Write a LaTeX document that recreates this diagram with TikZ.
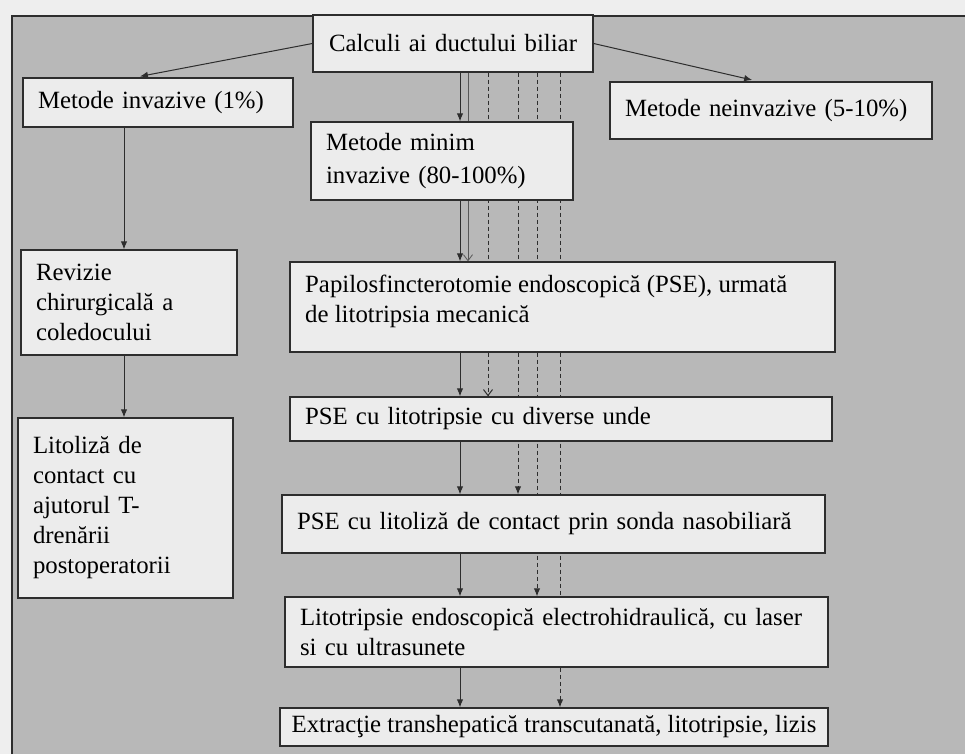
\documentclass[tikz,border=0pt]{standalone}
\usepackage{fontspec}
\setmainfont{Liberation Serif}
\usetikzlibrary{arrows.meta,calc}
\pgfdeclarelayer{bg}
\pgfdeclarelayer{lines}
\pgfsetlayers{bg,lines,main}
\definecolor{bggray}{RGB}{184,184,184}
\definecolor{outside}{RGB}{238,238,238}
\definecolor{boxfill}{RGB}{236,236,236}
\definecolor{ink}{RGB}{45,45,45}
\begin{document}
\begin{tikzpicture}[x=1pt,y=-1pt,
  box/.style={draw=ink, line width=1.3pt, fill=boxfill, inner xsep=15pt, inner ysep=0pt,
    align=left, font=\fontsize{24.8}{30}\selectfont, anchor=center},
  conn/.style={draw=ink, line width=1pt, -{Latex[length=8pt,width=6.5pt]}},
  dconn/.style={conn, dash pattern=on 4pt off 3pt},
  openhead/.style={-{Straight Barb[length=6pt,width=9pt]}}]
\useasboundingbox (0,0) rectangle (965,754);
\begin{pgfonlayer}{bg}
  \fill[outside] (0,0) rectangle (965,754);
  \fill[bggray] (12,16) rectangle (965,754);
  \draw[ink, line width=1.2pt] (12,754) -- (12,16) -- (965,16);
\end{pgfonlayer}

\node[box, align=center, text width=250pt, minimum height=57pt] (top) at (453,43.5) {Calculi ai ductului biliar};
\node[box, text width=240pt, minimum height=49pt] (inv) at (158,102.5) {Metode invazive (1\%)};
\node[box, text width=292pt, minimum height=57pt] (neinv) at (771,110.5) {Metode neinvazive (5-10\%)};
\node[box, text width=232pt, minimum height=78pt, font=\fontsize{24.8}{33}\selectfont] (minim) at (442,161) {Metode minim\\invazive (80-100\%)};
\node[box, text width=186pt, minimum height=105pt] (rev) at (129,302.5) {Revizie\\chirurgicală a\\coledocului};
\node[box, text width=185pt, minimum height=180pt] (lit) at (125.5,508) {Litoliză de\\contact cu\\ajutorul T-\\drenării\\postoperatorii};
\node[box, text width=515pt, minimum height=90pt] (pap) at (562.5,307) {};
\node[anchor=north west, inner sep=0pt, align=left, font=\fontsize{24.8}{30}\selectfont] (papt) at (305,275) {Papilosfincterotomie endoscopică (PSE), urmată\\de litotripsia mecanică};
\node[box, text width=512pt, minimum height=44pt] (pse1) at (561,419) {PSE cu litotripsie cu diverse unde};
\node[box, text width=513pt, minimum height=58pt] (pse2) at (553.5,524) {PSE cu litoliză de contact prin sonda nasobiliară};
\node[box, text width=513pt, minimum height=70pt] (lito) at (556.5,632) {Litotripsie endoscopică electrohidraulică, cu laser\\si cu ultrasunete};
\node[box, align=center, inner xsep=3pt, minimum width=548pt, minimum height=38pt] (ext) at (554,727) {Extracţie transhepatică transcutanată, litotripsie, lizis};

\coordinate (c0) at (460,0);
\coordinate (c1) at (468,0);
\coordinate (c2) at (488,0);
\coordinate (c3) at (518,0);
\coordinate (c4) at (537,0);
\coordinate (c5) at (560,0);
\coordinate (cl) at (124,0);
\coordinate (cL) at (135,0);
\coordinate (cR) at (758,0);

\begin{pgfonlayer}{lines}
  \draw[conn] (top.south -| c0) -- (minim.north -| c0);
  \draw[conn] (minim.south -| c0) -- (pap.north -| c0);
  \draw[conn] (pap.south -| c0) -- (pse1.north -| c0);
  \draw[conn] (pse1.south -| c0) -- (pse2.north -| c0);
  \draw[conn] (pse2.south -| c0) -- (lito.north -| c0);
  \draw[conn] (lito.south -| c0) -- (ext.north -| c0);
  \draw[draw=ink!80, line width=0.8pt, openhead] (top.south -| c1) -- (pap.north -| c1);
  \draw[dconn, openhead] (top.south -| c2) -- (pse1.north -| c2);
  \draw[dconn] (top.south -| c3) -- (pse2.north -| c3);
  \draw[dconn] (top.south -| c4) -- (lito.north -| c4);
  \draw[dconn] (top.south -| c5) -- (ext.north -| c5);
  \draw[conn] (inv.south -| cl) -- (rev.north -| cl);
  \draw[conn] (rev.south -| cl) -- (lit.north -| cl);
  \draw[conn, shorten >=5pt] (top.west) -- (inv.north -| cL);
  \draw[conn, shorten >=6pt] (top.east) -- (neinv.north -| cR);
\end{pgfonlayer}
\end{tikzpicture}
\end{document}
